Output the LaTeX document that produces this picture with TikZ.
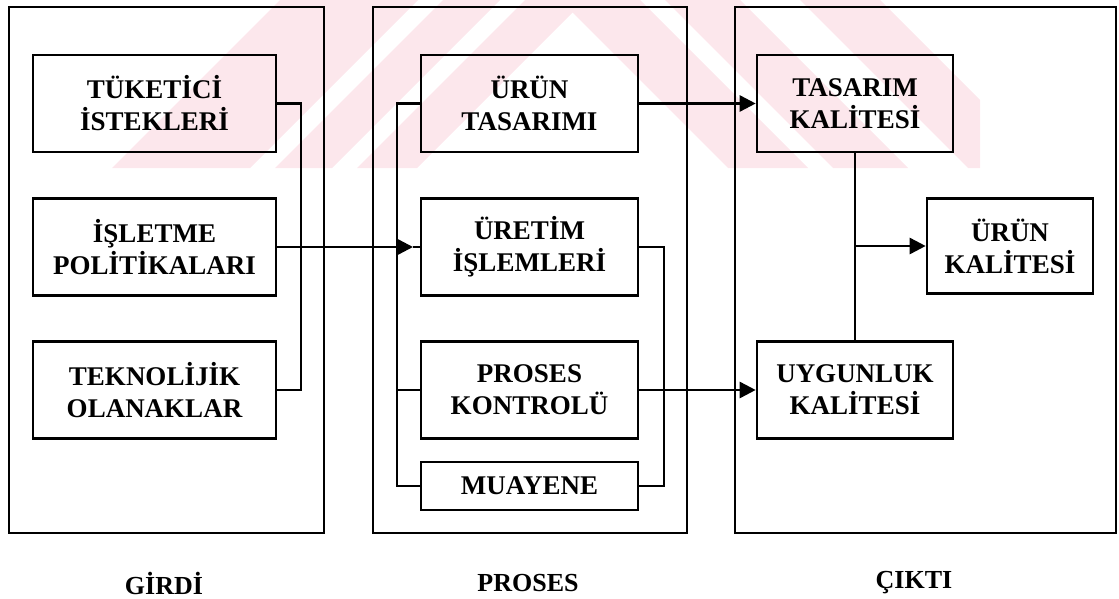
\documentclass[tikz,border=0pt]{standalone}
\usepackage{fontspec}
\setmainfont{Liberation Serif}
\usetikzlibrary{arrows.meta}
\definecolor{wmpink}{RGB}{252,231,236}
\tikzset{
  frame/.style={draw, line width=2.8pt, inner sep=0pt},
  item/.style={draw, line width=2.6pt, inner sep=0pt, align=center,
    minimum height=97pt,
    font=\fontsize{27}{32}\selectfont\bfseries},
  link/.style={line width=2.6pt},
  arr/.style={link, -{Triangle[length=16pt,width=16pt]}},
  caption/.style={font=\fontsize{26}{30}\selectfont\bfseries}
}
\begin{document}
\begin{tikzpicture}[x=1pt,y=-1pt]
\useasboundingbox (0,0) rectangle (1119,599);

% light diagonal band pattern along the top
\begin{scope}
  \clip (0,0) rectangle (980,168);
  \foreach \a/\b in {280/418, 443/500, 525/585}
    \fill[wmpink] (\a,0) -- (\b,0) -- (\b-168,168) -- (\a-168,168) -- cycle;
  \foreach \a/\b in {560/640, 665/740, 800/880}
    \fill[wmpink] (\a,0) -- (\b,0) -- (\b+168,168) -- (\a+168,168) -- cycle;
\end{scope}

% three stage frames
\node[frame, minimum width=315pt, minimum height=526pt] (girdi) at (166.5,270) {};
\node[frame, minimum width=314pt, minimum height=526pt] (proses) at (530,270) {};
\node[frame, minimum width=381pt, minimum height=526pt] (cikti) at (925.5,270) {};

% inputs
\node[item, minimum width=243pt] (tuk) at (154.5,103.5) {TÜKETİCİ\\İSTEKLERİ};
\node[item, minimum width=243pt] (isl) at (154.5,247) {İŞLETME\\POLİTİKALARI};
\node[item, minimum width=243pt] (tek) at (154.5,390) {TEKNOLİJİK\\OLANAKLAR};

% process
\node[item, minimum width=217pt] (urun) at (529.5,103.5) {ÜRÜN\\TASARIMI};
\node[item, minimum width=217pt] (uret) at (529.5,247) {ÜRETİM\\İŞLEMLERİ};
\node[item, minimum width=217pt] (pk) at (529.5,390) {PROSES\\KONTROLÜ};
\node[item, minimum width=217pt, minimum height=48pt] (muay) at (529.5,486) {MUAYENE};

% outputs
\node[item, minimum width=196pt] (tas) at (855,103.5) {TASARIM\\KALİTESİ};
\node[item, minimum width=196pt] (uyg) at (855,390) {UYGUNLUK\\KALİTESİ};
\node[item, minimum width=166pt, minimum height=95pt] (uk) at (1010,246) {ÜRÜN\\KALİTESİ};

% stage captions
\node[caption] (lg) at (164,583) {GİRDİ};
\node[caption] (lp) at (528,583) {PROSES};
\node[caption] (lc) at (914,583) {ÇIKTI};

% bus positions
\coordinate (gv) at (301,0);
\coordinate (pl) at (397,0);
\coordinate (pr) at (664,0);
\coordinate (tipA) at (413,247);

% input bus and its feed into production
\draw[link] (tuk.east) -- (tuk.east -| gv) |- (tek.east);
\draw[arr] (isl.east) -- (tipA);
\draw[link] (tipA) -- (uret.west);

% process buses
\draw[link] (urun.west) -- (urun.west -| pl) |- (muay.west);
\draw[link] (pk.west -| pl) -- (pk.west);
\draw[link] (uret.east) -- (uret.east -| pr) |- (muay.east);

% outputs
\draw[arr] (urun.east) -- (tas.west);
\draw[arr] (pk.east) -- (uyg.west);
\draw[link] (tas.south) -- (uyg.north);
\draw[arr] (tas.south |- uk.west) -- (uk.west);
\end{tikzpicture}
\end{document}
